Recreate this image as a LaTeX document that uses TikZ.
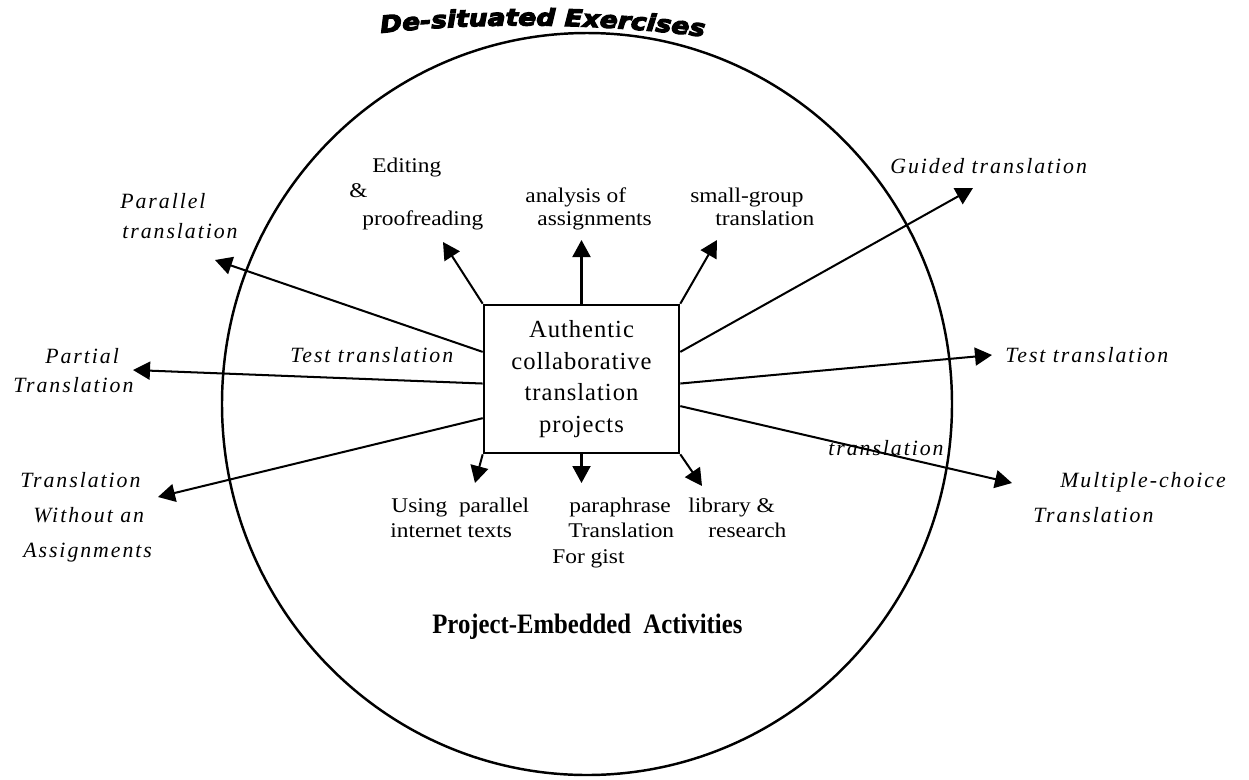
\documentclass[tikz,border=0pt]{standalone}
\usepackage{fontspec}
\setmainfont{Liberation Serif}
\newfontfamily\labelfont{Liberation Serif}[FakeStretch=1.12]
\newfontfamily\boxfont{Liberation Serif}[LetterSpace=4]
\newfontfamily\slantfont{Liberation Serif}[LetterSpace=9]
\newfontfamily\headfont{DejaVu Sans}[FakeStretch=1.14,FakeBold=5]
\newfontfamily\innerfont{Liberation Serif}[FakeStretch=0.88]
\usetikzlibrary{arrows.meta,calc,decorations.text}

\begin{document}
\begin{tikzpicture}[x=0.02cm,y=-0.02cm,
  lbl/.style={inner sep=0pt,anchor=base west,font=\labelfont\fontsize{11.9}{13}\selectfont},
  ital/.style={inner sep=0pt,anchor=base west,font=\slantfont\itshape\fontsize{12.4}{14}\selectfont},
  arr/.style={line width=1.15pt,-{Triangle[length=0.34cm,width=0.36cm]}},
  hub/.style={draw,line width=1.5pt,minimum width=195*0.02cm,minimum height=148*0.02cm,
    inner sep=0pt,align=center,font=\boxfont\fontsize{14}{18.1}\selectfont}]

\useasboundingbox (0,0) rectangle (1249,779);

% outer ring
\draw[line width=1.4pt] (587,404) ellipse [x radius=365*0.02cm, y radius=371*0.02cm];

% curved heading above the ring
\coordinate (tl) at (372,34);
\coordinate (tr) at (713,38);
\path[decorate,decoration={text along path,text align=center,
  text={|\headfont\bfseries\itshape\fontsize{13.2}{15}\selectfont|De-situated Exercises}}]
  (tl) .. controls (470,22) and (600,22) .. (tr);

% heading inside the ring
\node[inner sep=0pt,anchor=base west,font=\innerfont\bfseries\fontsize{16}{18}\selectfont] (inner) at (432,633)
  {Project-Embedded\ \ Activities};

% central box
\node[hub] (box) at (581.5,379) {Authentic\\collaborative\\translation\\projects};

% arrow end points
\coordinate (tEd) at (443,242);
\coordinate (tAn) at (581.5,240);
\coordinate (tSg) at (717,240);
\coordinate (tGd) at (973,188);
\coordinate (tTr) at (992,355);
\coordinate (tMc) at (1012,483);
\coordinate (tPa) at (215,260);
\coordinate (tPt) at (133,370);
\coordinate (tWo) at (158,497);
\coordinate (tUp) at (475,483);
\coordinate (tPp) at (581.5,483);
\coordinate (tLb) at (702,486);

% arrows leaving the box
\draw[arr] (box.north west) -- (tEd);
\draw[arr] (box.north) -- (tAn);
\draw[arr] (box.north east) -- (tSg);
\draw[arr] ($(box.north east)!0.32!(box.south east)$) -- (tGd);
\draw[arr] ($(box.north east)!0.53!(box.south east)$) -- (tTr);
\draw[arr] ($(box.north east)!0.68!(box.south east)$) -- (tMc);
\draw[arr] ($(box.north west)!0.32!(box.south west)$) -- (tPa);
\draw[arr] ($(box.north west)!0.53!(box.south west)$) -- (tPt);
\draw[arr] ($(box.north west)!0.76!(box.south west)$) -- (tWo);
\draw[arr] (box.south west) -- (tUp);
\draw[arr] (box.south) -- (tPp);
\draw[arr] (box.south east) -- (tLb);

% activities inside the project
\node[lbl] (ed1) at (372,172) {Editing};
\node[lbl] (ed2) at (349,197) {\&};
\node[lbl] (ed3) at (362,225) {proofreading};
\node[lbl] (an1) at (525,202) {analysis of};
\node[lbl] (an2) at (537,225) {assignments};
\node[lbl] (sg1) at (690,202) {small-group};
\node[lbl] (sg2) at (715,225) {translation};
\node[lbl] (up1) at (391,512) {Using\ \ parallel};
\node[lbl] (up2) at (390,537) {internet texts};
\node[lbl] (pp1) at (569,512) {paraphrase};
\node[lbl] (pp2) at (568,537) {Translation};
\node[lbl] (pp3) at (552,563) {For gist};
\node[lbl] (lb1) at (688,512) {library \&};
\node[lbl] (lb2) at (708,537) {research};

% de-situated exercises
\node[ital] (pa1) at (120,208) {Parallel};
\node[ital] (pa2) at (122,238) {translation};
\node[ital] (ts1) at (290,362) {Test translation};
\node[ital] (pt1) at (45,363) {Partial};
\node[ital] (pt2) at (13,392) {Translation};
\node[ital] (wo1) at (20,487) {Translation};
\node[ital] (wo2) at (33,522) {Without an};
\node[ital] (wo3) at (23,557) {Assignments};
\node[ital] (gd1) at (890,173) {Guided translation};
\node[ital] (ts2) at (1005,362) {Test translation};
\node[ital] (tx1) at (828,455) {translation};
\node[ital] (mc1) at (1060,487) {Multiple-choice};
\node[ital] (mc2) at (1033,522) {Translation};
\end{tikzpicture}
\end{document}
